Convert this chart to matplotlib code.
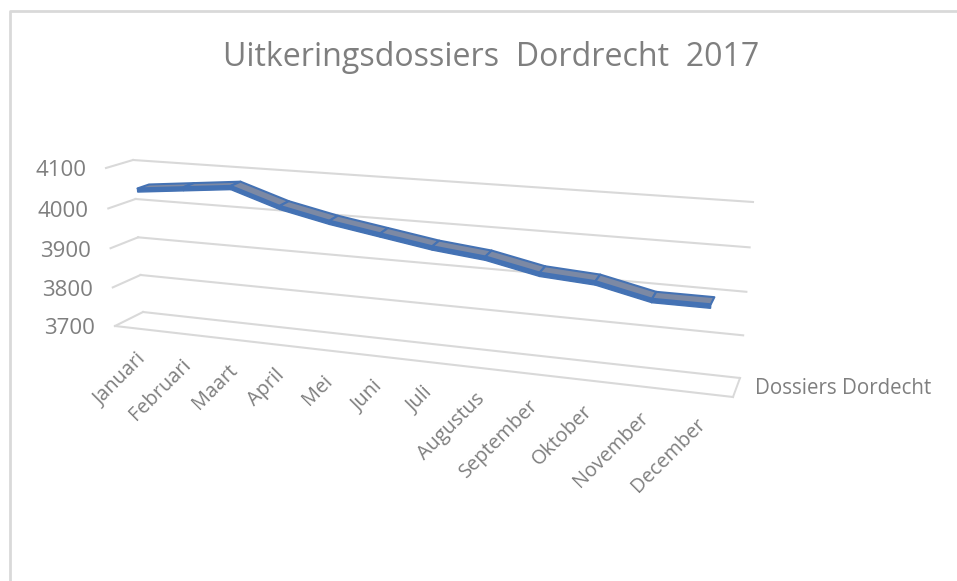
import numpy as np
import matplotlib
matplotlib.use("Agg")
import matplotlib.pyplot as plt
from matplotlib.transforms import Transform

months = ["Januari", "Februari", "Maart", "April", "Mei", "Juni", "Juli",
          "Augustus", "September", "Oktober", "November", "December"]
dossiers = [4048, 4060, 4072, 4033, 4007, 3987, 3967, 3954, 3928, 3920, 3892, 3892]
yticks = [3700, 3800, 3900, 4000, 4100]
title = "Uitkeringsdossiers  Dordrecht  2017"
series_name = "Dossiers Dordecht"

W, H = 957, 581
GRID = "#d9d9d9"
TXT = "#7f7f7f"
plt.rcParams["font.family"] = ["Open Sans", "DejaVu Sans"]

# corners of the 3D box in image pixels: (x0/y-low, x1/y-low, x0/y-high, x1/y-high)
BACK = np.array([[143, 312], [740, 378], [133, 160], [753, 202]], float)
FRONT = np.array([[115, 326], [733, 397], [106, 168], [745, 216]], float)
UNIT = [(0, 0), (1, 0), (0, 1), (1, 1)]


class BoxPlane(Transform):
    """Maps (category index, value) to image pixels on a plane of the box at a depth."""
    input_dims = output_dims = 2

    def __init__(self, depth):
        super().__init__()
        c = FRONT + (BACK - FRONT) * depth
        A, b = [], []
        for (u, v), (x, y) in zip(UNIT, c):
            A.append([u, v, 1, 0, 0, 0, -u * x, -v * x]); b.append(x)
            A.append([0, 0, 0, u, v, 1, -u * y, -v * y]); b.append(y)
        self.M = np.append(np.linalg.solve(np.array(A), np.array(b)), 1).reshape(3, 3)

    def transform_non_affine(self, pts):
        pts = np.asarray(pts, float)
        u = (pts[:, 0] + 0.5) / 12
        v = (pts[:, 1] - yticks[0]) / (yticks[-1] - yticks[0])
        q = self.M @ np.column_stack([u, v, np.ones_like(u)]).T
        return (q[:2] / q[2]).T


fig = plt.figure(figsize=(W / 100, H / 100), dpi=100)
ax = fig.add_axes([0, 0, 1, 1])
ax.set_xlim(0, W)
ax.set_ylim(H, 0)
ax.axis("off")

# outer frame of the chart
ax.plot([10, 10, 957], [580, 11, 11], color=GRID, lw=2, clip_on=False)

back = BoxPlane(1.0)
front = BoxPlane(0.0)
x0, x1 = -0.5, 11.5
for t in yticks:
    ax.plot([x0, x1], [t, t], color=GRID, lw=1.5, transform=back + ax.transData)
    a = front.transform([[x0, t]])[0]
    b = back.transform([[x0, t]])[0]
    ax.plot([a[0], b[0]], [a[1], b[1]], color=GRID, lw=1.5)
    ax.text(a[0] - 20, a[1] + 3, f"{t}", ha="right", va="center", fontsize=16, color=TXT)
# floor
fl = yticks[0]
ax.plot([x0, x1], [fl, fl], color=GRID, lw=1.5, transform=front + ax.transData)
a = front.transform([[x1, fl]])[0]
b = back.transform([[x1, fl]])[0]
ax.plot([a[0], b[0]], [a[1], b[1]], color=GRID, lw=1.4)

# ribbon
n = len(months)
idx = np.arange(n, dtype=float)
pts = np.column_stack([idx, dossiers])
near, far, low = BoxPlane(0.28), BoxPlane(0.72), BoxPlane(0.28)
drop = np.column_stack([idx, np.array(dossiers) - 9])
BLUE = "#4472b4"
GREY = "#7c89a4"
for i in range(n - 1):
    s = slice(i, i + 2)
    pn, pf, pl = near.transform(pts[s]), far.transform(pts[s]), low.transform(drop[s])
    ax.fill(np.r_[pn[:, 0], pl[::-1, 0]], np.r_[pn[:, 1], pl[::-1, 1]],
            color=BLUE, lw=1.0, zorder=4)
    ax.fill(np.r_[pn[:, 0], pf[::-1, 0]], np.r_[pn[:, 1], pf[::-1, 1]],
            facecolor=GREY, edgecolor=BLUE, lw=1.5, zorder=5, joinstyle="round")

# category labels
lab = BoxPlane(0.0)
for i, m in enumerate(months):
    p = lab.transform([[i, fl]])[0]
    ax.text(p[0] - 1 - 0.6 * i, p[1] + 21, m, rotation=45, rotation_mode="anchor", ha="right", va="top",
            fontsize=14.3, color=TXT)

ax.text(491.5, 57, title, ha="center", va="center", fontsize=23.1, color=TXT)
ax.text(755, 389, series_name, ha="left", va="center", fontsize=14.8, color=TXT)

fig.savefig("out.png", dpi=100)
